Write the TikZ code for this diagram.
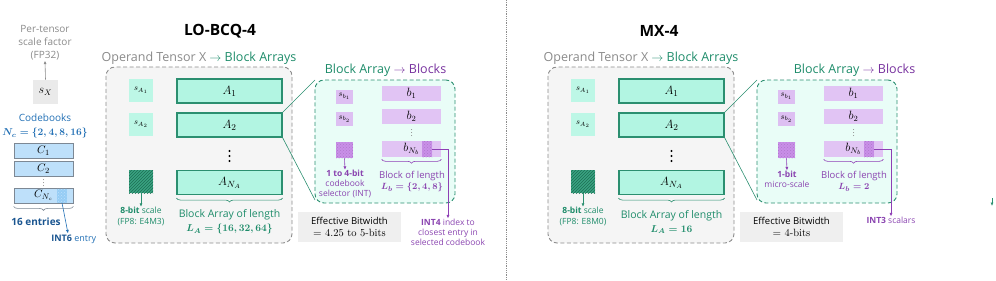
\documentclass[tikz,border=0pt]{standalone}
\usepackage{amsmath}
\usepackage{fontspec}
\setsansfont{Open Sans}
\usetikzlibrary{calc,patterns,arrows.meta,decorations.pathreplacing}

\begin{document}
\begin{tikzpicture}[x=1pt,y=-1pt,line width=0.6pt,
	every node/.style={inner sep=0pt, font=\sffamily},
	lbl/.style={align=center, font=\sffamily\fontsize{8}{11}\selectfont},
	dashbox/.style={dashed, dash pattern=on 4pt off 2.5pt, rounded corners=9pt, line width=0.9pt},
	arraybox/.style={draw=grnline, fill=mint, line width=1.1pt, minimum width=105pt, minimum height=24pt, font=\fontsize{13}{15}\selectfont},
	scalebox/.style={fill=mintscale, minimum width=24pt, minimum height=23pt, font=\fontsize{8}{9}\selectfont},
	grnhatch/.style={fill=grnfill, postaction={pattern=north east lines, pattern color=grndark}, minimum width=24pt, minimum height=23pt},
	blkbox/.style={fill=lilac, minimum width=59pt, minimum height=15pt, font=\fontsize{12}{14}\selectfont},
	microbox/.style={fill=lilacscale, minimum width=17pt, minimum height=14pt, font=\fontsize{8}{9}\selectfont},
	lilachatch/.style={fill=lilacfill, postaction={pattern=crosshatch dots, pattern color=lilacdark!70}},
	cbookbox/.style={draw=cbookline, fill=cbookfill, line width=0.8pt, minimum width=59pt, minimum height=15pt, font=\fontsize{11}{13}\selectfont},
	effbox/.style={fill=effgray, minimum width=103pt, minimum height=30pt, align=center, font=\sffamily\fontsize{9.5}{12}\selectfont},
	lenbrace/.style={decorate, decoration={brace, mirror, amplitude=4pt}},
	smallarrow/.style={-{Latex[length=3.5pt,width=3pt]}},
]

% ---------- Parameters of the drawing ----------
\def\PanelShift{442}   % horizontal offset of the MX-4 panel
\def\DividerX{506}     % position of the dotted separator

% ---------- Colours ----------
\definecolor{grntext}{HTML}{1E8C6A}
\definecolor{grnline}{HTML}{2B8F70}
\definecolor{mint}{HTML}{B2F5E2}
\definecolor{mintscale}{HTML}{BDF7E6}
\definecolor{mintlight}{HTML}{E9FDF7}
\definecolor{grnfill}{HTML}{3AA381}
\definecolor{grndark}{HTML}{1C6E54}
\definecolor{tensorline}{HTML}{8C8C8C}
\definecolor{tensorfill}{HTML}{F5F5F5}
\definecolor{labelgray}{HTML}{8A8A8A}
\definecolor{lilac}{HTML}{E1C4F4}
\definecolor{lilacscale}{HTML}{DDBFF2}
\definecolor{lilacfill}{HTML}{C98FE8}
\definecolor{lilacdark}{HTML}{8E3FB5}
\definecolor{lilactext}{HTML}{8A44B0}
\definecolor{blockstitle}{HTML}{77319E}
\definecolor{cbookblue}{HTML}{2270B5}
\definecolor{cbookdark}{HTML}{1A5590}
\definecolor{cbookline}{HTML}{7D8894}
\definecolor{cbookfill}{HTML}{BEE0FA}
\definecolor{cellblue}{HTML}{96CDF5}
\definecolor{sxgray}{HTML}{EAEAEA}
\definecolor{effgray}{HTML}{EFEFEF}

\useasboundingbox (0,0) rectangle (996,281);

% ---------- Per-tensor scale ----------
\node[align=center, text=labelgray, font=\sffamily\fontsize{10}{13}\selectfont] (pertensor) at (45,43) {Per-tensor\\scale factor\\(FP32)};
\node[fill=sxgray, minimum width=25pt, minimum height=24pt, font=\fontsize{12}{14}\selectfont] (sX) at (45.5,92) {$s_X$};
\draw[smallarrow, labelgray] (sX.north) -- (pertensor.south);

% ---------- Codebooks ----------
\node[align=center, text=cbookblue, font=\sffamily\fontsize{10}{14}\selectfont] (codebooks) at (45,126) {Codebooks\\{\boldmath$N_c=\{2,4,8,16\}$}};
\node[cbookbox] (C1) at (43.5,150.5) {$C_1$};
\node[cbookbox] (C2) at (43.5,168.5) {$C_2$};
\foreach \y in {179.5,182.5,185.5}
	\fill[labelgray] (43.5,\y) circle[radius=0.5];
\node[cbookbox] (CN) at (43.5,195.5) {$C_{N_c}$};
\node[fill=cellblue, postaction={pattern=crosshatch dots, pattern color=cbookfill}, minimum width=10pt, minimum height=14pt] (cell) at (62,195.5) {};
\draw[lenbrace, cbookline] ($(CN.south west)+(0,3)$) -- ($(CN.south east)+(0,3)$);
\node[text=cbookdark, font=\sffamily\bfseries\fontsize{10}{12}\selectfont] (entries) at (36,222) {16 entries};
\node[anchor=west, text=cbookblue, font=\sffamily\fontsize{9}{11}\selectfont] (int6) at (51,239) {\textcolor{cbookdark}{\textbf{INT6}} entry};
\draw[smallarrow, cbookblue] (cell.south) -- ($(int6.north west)+(17,-1)$);

% ---------- Panels: operand tensor and block array ----------
\foreach \sh/\p/\fmt/\LA/\LB/\eff in {0/lo/E4M3/{\{16,32,64\}}/{\{2,4,8\}}/{4.25 to 5-bits}, \PanelShift/mx/E8M0/16/2/4-bits}{
\begin{scope}[xshift=\sh]
	% Operand tensor X
	\node[dashbox, draw=tensorline, fill=tensorfill, minimum width=186pt, minimum height=176pt] (tensor-\p) at (199,155) {};
	\node[text=labelgray, font=\sffamily\fontsize{12.5}{14}\selectfont] (optitle-\p) at (199,58) {Operand Tensor X \textcolor{grntext}{$\rightarrow$ Block Arrays}};
	\node[scalebox] (sA1-\p) at (141,90.5) {$s_{A_1}$};
	\node[scalebox] (sA2-\p) at (141,124.5) {$s_{A_2}$};
	\node[grnhatch] (sAN-\p) at (141,181.5) {};
	\node[arraybox] (A1-\p) at (229.5,91) {$A_1$};
	\node[arraybox] (A2-\p) at (229.5,125) {$A_2$};
	\foreach \y in {151,156,161}
		\fill (229.5,\y) circle[radius=1.2];
	\node[arraybox] (AN-\p) at (229.5,182.5) {$A_{N_A}$};
	\draw[lenbrace, grnline] ($(AN-\p.south west)+(0,3)$) -- ($(AN-\p.south east)+(0,3)$);
	\node[lbl, text=grntext, font=\sffamily\fontsize{8.5}{11}\selectfont] (scl-\p) at (141,216.5) {\textbf{8-bit} scale\\(FP8: \fmt)};
	\draw[smallarrow, grnline] (sAN-\p.south) -- (scl-\p.north);
	\node[lbl, text=grntext, font=\sffamily\fontsize{10.5}{14}\selectfont] (lenA-\p) at (229.5,222) {Block Array of length\\{\fontsize{10}{14}\selectfont\boldmath$L_A=\LA$}};

	% Block array -> blocks
	\draw[grnline] (A2-\p.north east) -- (315,80);
	\draw[grnline] (A2-\p.south east) -- (315,200);
	\node[dashbox, draw=grnline, fill=mintlight, minimum width=140pt, minimum height=123pt] (blocks-\p) at (385,141.5) {};
	\node[microbox] (sb1-\p) at (344.5,96.5) {$s_{b_1}$};
	\node[microbox] (sb2-\p) at (344.5,119) {$s_{b_2}$};
	\node[microbox, lilachatch, minimum height=16pt] (sbN-\p) at (344.5,150) {};
	\node[blkbox] (b1-\p) at (411.5,93.5) {$b_1$};
	\node[blkbox] (b2-\p) at (411.5,116.5) {$b_2$};
	\foreach \y in {129.5,132.5,135.5}
		\fill[labelgray] (411.5,\y) circle[radius=0.5];
	\node[blkbox, minimum height=16pt] (bN-\p) at (411.5,149) {$b_{N_b}$};
	\node[lilachatch, minimum width=10pt, minimum height=16pt] (seg-\p) at (427,149) {};
	\draw[lenbrace, lilacdark] ($(bN-\p.south west)+(0,2)$) -- ($(bN-\p.south east)+(0,2)$);
	\node[lbl, text=lilactext, font=\sffamily\fontsize{9.5}{11}\selectfont] (lenb-\p) at (412,181.5) {Block of length\\{\boldmath$L_b=\LB$}};

	% Effective bitwidth
	\node[effbox] (eff-\p) at (349.5,227) {Effective Bitwidth\\{\rmfamily\fontsize{10.5}{12}\selectfont $=$ \eff}};
\end{scope}
}

% ---------- Titles ----------
\node[font=\sffamily\bfseries\fontsize{15.5}{17}\selectfont] (title-lo) at (220,31) {LO-BCQ-4};
\node[font=\sffamily\bfseries\fontsize{15.5}{17}\selectfont] (title-mx) at (659,31) {MX-4};
\node[text=grntext, font=\sffamily\fontsize{12.5}{14}\selectfont] (btitle-lo) at (385.5,70) {Block Array \textcolor{blockstitle}{$\rightarrow$ Blocks}};
\node[text=grntext, font=\sffamily\fontsize{12.5}{14}\selectfont] (btitle-mx) at (854.5,70) {Block Array \textcolor{blockstitle}{$\rightarrow$ Blocks}};

% ---------- Selector and index labels ----------
\node[lbl, text=lilactext, font=\sffamily\fontsize{8.5}{10}\selectfont] (sel-lo) at (345,184) {\textbf{1 to 4-bit}\\codebook\\selector (INT)};
\node[lbl, text=lilactext, font=\sffamily\fontsize{8.5}{10}\selectfont] (sel-mx) at (787,179) {\textbf{1-bit}\\micro-scale};
\node[lbl, text=lilactext, font=\sffamily\fontsize{8.5}{10}\selectfont] (idx-lo) at (448,232) {\textbf{INT4} index to\\closest entry in\\selected codebook};
\node[lbl, text=lilactext, font=\sffamily\fontsize{8.5}{10}\selectfont] (idx-mx) at (891,220) {\textbf{INT3} scalars};
\foreach \p in {lo,mx}{
	\draw[smallarrow, lilacdark] (sbN-\p.south) -- (sel-\p.north);
	\draw[smallarrow, lilacdark] (seg-\p.east) -| (idx-\p.north);
}

% ---------- Divider and stray marker ----------
\draw[densely dotted, tensorline, line width=0.8pt] (\DividerX,0) -- (\DividerX,280);
\coordinate (marktop) at (992,198);
\coordinate (markbot) at (992,206);
\draw[smallarrow, grnline] (marktop) -- (markbot);

\end{tikzpicture}
\end{document}
